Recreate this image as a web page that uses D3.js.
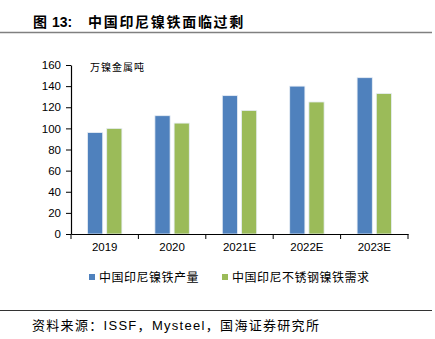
<!DOCTYPE html>
<html><head><meta charset="utf-8">
<script src="https://cdn.jsdelivr.net/npm/d3@7"></script>
<style>
html,body{margin:0;padding:0;background:#fff;}
svg{display:block;font-family:"Liberation Sans",Arial,sans-serif;}
.cjk{font-family:"Noto Sans CJK SC","Liberation Sans",sans-serif;}
.mix{font-family:"Liberation Sans","Noto Sans CJK SC",sans-serif;}
</style></head><body>
<script>
const categories = ["2019","2020","2021E","2022E","2023E"];
const production = [96,112,131,140,148];
const demand = [100,105,117,125,133];
const seriesNames = ["中国印尼镍铁产量","中国印尼不锈钢镍铁需求"];
const yTicks = [0,20,40,60,80,100,120,140,160];
const colors = ["#4F81BD","#9BBB59"];

const W=435,H=339;
const svg=d3.select("body").append("svg").attr("width",W).attr("height",H);

// Title
const t=svg.append("text").attr("y",26.5).attr("font-size",14).attr("font-weight","bold").attr("fill","#000");
t.append("tspan").attr("x",33).attr("class","cjk").text("图");
t.append("tspan").attr("x",52).attr("font-family","Liberation Sans,Arial,sans-serif").text("13:");
t.append("tspan").attr("x",88).attr("class","cjk").attr("letter-spacing",1.7).text("中国印尼镍铁面临过剩");
svg.append("line").attr("x1",0).attr("x2",432).attr("y1",32.5).attr("y2",32.5)
  .attr("stroke","#808080").attr("stroke-width",1.5);

const x0=71,x1=408,yTop=65,yBot=234;
const x=d3.scaleBand().domain(categories).range([x0,x1]);
const y=d3.scaleLinear().domain([0,160]).range([yBot,yTop]);

const series=[production,demand];
const bw=15.2, gap=4;
series.forEach((vals,si)=>{
  svg.append("g").selectAll("rect").data(vals).join("rect")
    .attr("x",(d,i)=>x(categories[i])+x.bandwidth()/2-(bw+gap/2)+si*(bw+gap))
    .attr("y",d=>y(d))
    .attr("width",bw)
    .attr("height",d=>yBot-y(d))
    .attr("fill",colors[si])
    .attr("stroke","#e8eef6").attr("stroke-width",0.8);
});

// Y axis
const ya=svg.append("g").attr("transform",`translate(${x0},0)`)
  .call(d3.axisLeft(y).tickValues(yTicks).tickSize(5).tickSizeOuter(0).tickPadding(5));
ya.select(".domain").attr("stroke","#000").attr("stroke-width",1.2);
ya.selectAll(".tick line").attr("stroke","#000");
ya.selectAll("text").attr("font-size",11.5).attr("fill","#000").attr("font-family","Liberation Sans,Arial,sans-serif");

// X axis
const xa=svg.append("g").attr("transform",`translate(0,${yBot})`)
  .call(d3.axisBottom(x).tickSize(0).tickPadding(9));
xa.select(".domain").attr("stroke","#000").attr("stroke-width",1.2);
xa.selectAll("text").attr("font-size",11.5).attr("fill","#000").attr("font-family","Liberation Sans,Arial,sans-serif");
const edges=categories.map(c=>x(c)).concat([x1]);
xa.selectAll("line.sep").data(edges).join("line").attr("class","sep")
  .attr("x1",d=>d).attr("x2",d=>d).attr("y1",0).attr("y2",5).attr("stroke","#000");

// Unit label
svg.append("text").attr("x",90).attr("y",71).attr("class","cjk")
  .attr("font-size",10).attr("fill","#000").attr("letter-spacing",1).text("万镍金属吨");

// Legend
const legX=[89,222];
seriesNames.forEach((n,i)=>{
  svg.append("rect").attr("x",legX[i]).attr("y",274).attr("width",6).attr("height",6).attr("fill",colors[i]);
  svg.append("text").attr("x",legX[i]+10).attr("y",281.5).attr("class","cjk")
    .attr("font-size",12).attr("letter-spacing",0.5).attr("fill","#000").text(n);
});

// Bottom line and source
svg.append("line").attr("x1",0).attr("x2",432).attr("y1",310.5).attr("y2",310.5)
  .attr("stroke","#333").attr("stroke-width",1);
svg.append("text").attr("x",32).attr("y",329.5).attr("class","mix")
  .attr("font-size",13).attr("letter-spacing",1.3).attr("fill","#000").text("资料来源：ISSF，Mysteel，国海证券研究所");
</script>
</body></html>
